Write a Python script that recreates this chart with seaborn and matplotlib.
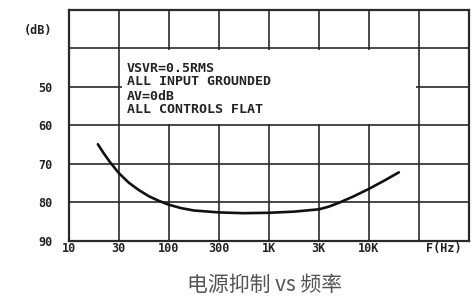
import matplotlib
matplotlib.use("Agg")
import matplotlib.pyplot as plt
import seaborn as sns
import pandas as pd
from matplotlib.patches import Rectangle

# ---- data ----
x_tick_labels = ["10", "30", "100", "300", "1K", "3K", "10K"]
x_unit_label = "F(Hz)"
y_tick_values = [50, 60, 70, 80, 90]
y_unit_label = "(dB)"
# curve: position on the (evenly spaced) frequency grid, rejection in dB
freq_pos = [0.58, 0.70, 0.82, 1.00, 1.20, 1.40, 1.60, 1.80, 2.00, 2.25, 2.50,
            3.00, 3.50, 4.00, 4.50, 5.00, 5.20, 5.42, 5.70, 6.00, 6.30, 6.60]
psrr_db = [64.9, 67.3, 69.5, 72.4, 74.9, 76.8, 78.4, 79.6, 80.6, 81.5, 82.1,
           82.6, 82.8, 82.7, 82.4, 81.8, 81.1, 80.0, 78.4, 76.5, 74.4, 72.2]
note_lines = ["VSVR=0.5RMS", "ALL INPUT GROUNDED", "AV=0dB", "ALL CONTROLS FLAT"]
caption = "电源抑制 vs 频率"

df = pd.DataFrame({"pos": freq_pos, "db": psrr_db})

sns.set_theme(style="white")
plt.rcParams["font.family"] = ["DejaVu Sans Mono", "DejaVu Sans"]

fig = plt.figure(figsize=(4.75, 3.0), dpi=100)
ax = fig.add_axes([0.145, 0.197, 0.842, 0.770])

grid_c = "#2a2a2a"
sns.lineplot(data=df, x="pos", y="db", ax=ax, color="#111111", lw=1.9, zorder=5)

ax.set_xlim(0, 8)
ax.set_ylim(90, 30)
ax.xaxis.remove_overlapping_locs = False
ax.yaxis.remove_overlapping_locs = False

# grid lines (minor ticks)
ax.set_xticks(range(0, 9), minor=True)
ax.set_yticks(range(30, 100, 10), minor=True)
ax.grid(which="minor", color=grid_c, lw=1.2, zorder=1)
ax.grid(which="major", visible=False)

# labels
ax.set_xticks(list(range(len(x_tick_labels))) + [7.5])
ax.set_xticklabels(x_tick_labels + [x_unit_label])
ax.set_yticks(y_tick_values + [35])
ax.set_yticklabels([str(v) for v in y_tick_values] + [y_unit_label])
ax.tick_params(which="both", length=0)
ax.tick_params(axis="x", pad=1, labelsize=8.5, labelcolor="#222222")
ax.tick_params(axis="y", pad=12, labelsize=8.5, labelcolor="#222222")
for t in ax.get_xticklabels() + ax.get_yticklabels():
    t.set_fontweight("bold")
ax.set_xlabel("")
ax.set_ylabel("")

for s in ax.spines.values():
    s.set_visible(True)
    s.set_color(grid_c)
    s.set_linewidth(1.6)

# note box covering the grid
ax.add_patch(Rectangle((1.06, 40.4), 5.88, 19.2, facecolor="white",
                       edgecolor="none", zorder=3))
note_y = [45.2, 48.6, 52.6, 56.0]
for line, yy in zip(note_lines, note_y):
    ax.text(1.16, yy, line, fontsize=9.5, fontweight="bold", color="#222222",
            va="center", ha="left", zorder=4)

fig.text(0.558, 0.05, caption, ha="center", va="center", fontsize=15,
         color="#555555", family=["Noto Sans CJK SC", "DejaVu Sans"])

fig.savefig("out.png", dpi=100)
